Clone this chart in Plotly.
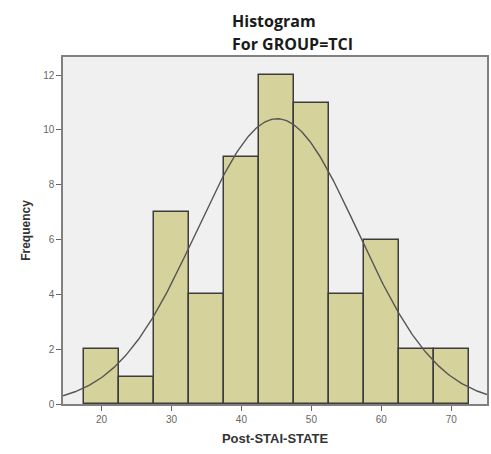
import numpy as np
import plotly.graph_objects as go

# Data
bin_centers = [20, 25, 30, 35, 40, 45, 50, 55, 60, 65, 70]
frequencies = [2, 1, 7, 4, 9, 12, 11, 4, 6, 2, 2]
bin_width = 5
x_ticks = [20, 30, 40, 50, 60, 70]
y_ticks = [0, 2, 4, 6, 8, 10, 12]

# Normal curve parameters (fitted normal overlay)
curve_mean = 45.1
curve_sd = 11.5
n_total = sum(frequencies)

xs = np.linspace(14.5, 75.1, 300)
ys = n_total * bin_width / (curve_sd * np.sqrt(2 * np.pi)) * np.exp(-((xs - curve_mean) ** 2) / (2 * curve_sd ** 2))

fig = go.Figure()
fig.add_trace(go.Bar(
    x=bin_centers, y=frequencies, width=[bin_width] * len(bin_centers),
    marker=dict(color="#d6d29b", line=dict(color="#3c3c3c", width=1.5)),
    hoverinfo="x+y", showlegend=False,
))
fig.add_trace(go.Scatter(
    x=xs, y=ys, mode="lines", line=dict(color="#555555", width=1.4),
    showlegend=False, hoverinfo="skip",
))

fig.update_layout(
    width=491, height=454,
    margin=dict(l=63, r=2, t=57, b=50),
    paper_bgcolor="white", plot_bgcolor="#f0f0f0",
    bargap=0,
    font=dict(family="Liberation Sans, Arial", color="#555555"),
    xaxis=dict(
        range=[14.5, 75.1], tickvals=x_ticks, ticks="outside", ticklen=5,
        tickcolor="#666666", showgrid=False, zeroline=False,
        showline=True, linecolor="#808080", linewidth=1.5, mirror=True,
        tickfont=dict(size=10, color="#666666"),
        title=dict(text="<b>Post-STAI-STATE</b>", font=dict(size=13, color="#333333"), standoff=10),
    ),
    yaxis=dict(
        range=[0, 12.66], tickvals=y_ticks, ticks="outside", ticklen=5,
        tickcolor="#666666", showgrid=False, zeroline=False,
        showline=True, linecolor="#808080", linewidth=1.5, mirror=True,
        tickfont=dict(size=10, color="#666666"),
        title=dict(text="<b>Frequency</b>", font=dict(size=12, color="#333333"), standoff=10),
    ),
)

plot_w = 491 - 63 - 2
plot_h = 454 - 57 - 50
def px_to_paper(px, py):
    return (px - 63) / plot_w, (454 - 50 - py) / plot_h

for text, py in [("<b>Histogram</b>", 21), ("<b>For GROUP=TCI</b>", 44)]:
    ax, ay = px_to_paper(231, py)
    fig.add_annotation(text=text, x=ax, y=ay, xref="paper", yref="paper",
                       xanchor="left", yanchor="middle", showarrow=False,
                       font=dict(family="Open Sans, Arial", size=16, color="#1a1a1a"))

fig.write_html("out.html", config={"displayModeBar": False},
               post_script="document.body.style.margin='0';")
